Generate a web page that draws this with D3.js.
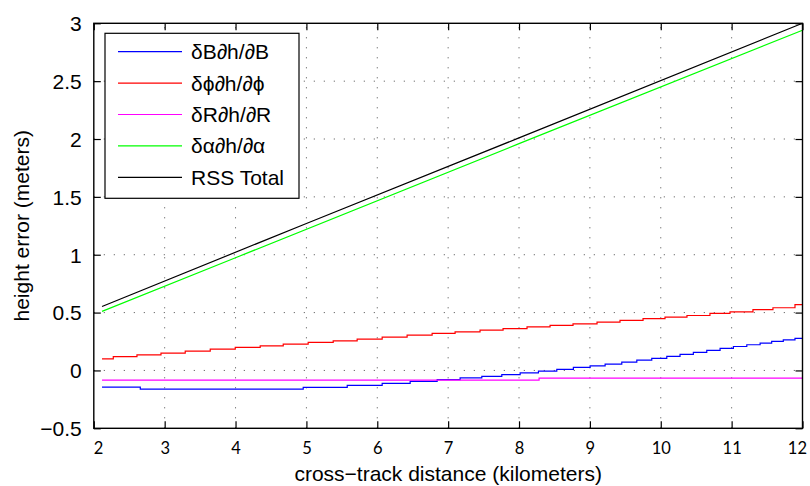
<!DOCTYPE html>
<html><head><meta charset="utf-8">
<script src="https://cdn.jsdelivr.net/npm/d3@7"></script>
<style>body{margin:0;background:#fff}</style>
</head><body><svg id="c" width="810" height="486"></svg>
<script>
// ---- data ----
const xTicks = [2,3,4,5,6,7,8,9,10,11,12];
const xTickLabels = ["2","3","4","5","6","7","8","9","10","11","12"];
const yTicks = [-0.5,0,0.5,1,1.5,2,2.5,3];
const yTickLabels = ["\u22120.5","0","0.5","1","1.5","2","2.5","3"];

const seriesNames = ["\u03b4B\u2202h/\u2202B","\u03b4\u03d5\u2202h/\u2202\u03d5","\u03b4R\u2202h/\u2202R","\u03b4\u03b1\u2202h/\u2202\u03b1","RSS Total"];
const seriesColors = ["#0000ff","#ff0000","#ff00ff","#00ff00","#000000"];

const blueX = [2.116,2.656,4.955,5.576,6.069,6.464,6.845,7.169,7.475,7.757,8.016,8.274,8.533,8.767,9.003,9.215,9.45,9.662,9.873,10.085,10.272,10.46,10.649,10.837,11.025,11.214,11.402,11.565,11.729,11.894,12];
const blueY = [-0.144,-0.161,-0.146,-0.129,-0.111,-0.094,-0.08,-0.065,-0.052,-0.036,-0.021,-0.006,0.009,0.026,0.04,0.054,0.072,0.089,0.104,0.121,0.138,0.156,0.173,0.19,0.207,0.222,0.236,0.251,0.265,0.277,0.28];

const redX = [2.116,2.275,2.609,2.948,3.29,3.643,3.996,4.348,4.673,5.025,5.378,5.716,6.069,6.421,6.774,7.098,7.45,7.775,8.113,8.438,8.762,9.101,9.425,9.75,10.06,10.37,10.694,10.977,11.301,11.583,11.894,12];
const redY = [0.10,0.12,0.135,0.15,0.167,0.184,0.20,0.213,0.227,0.242,0.256,0.271,0.288,0.305,0.32,0.334,0.348,0.362,0.376,0.389,0.403,0.418,0.432,0.447,0.461,0.475,0.493,0.507,0.525,0.542,0.568,0.57];

const magentaX = [2.116,8.283,12];
const magentaY = [-0.083,-0.067,-0.067];

const greenX = [2.116,4,8,12];
const greenY = [0.51,0.974,1.96,2.94];

const blackX = [2.116,5,8,12];
const blackY = [0.553,1.27,2.01,3.0];

// ---- layout ----
const svg = d3.select("#c");
const L = 93.8, R = 802.5, T = 23.3, B = 428.3;
const x = d3.scaleLinear().domain([2,12]).range([L,R]);
const y = d3.scaleLinear().domain([-0.5,3]).range([B,T]);

// grid
const g = svg.append("g");
g.selectAll("line.vg").data(xTicks.slice(1,-1)).join("line")
  .attr("x1",d=>x(d)).attr("x2",d=>x(d)).attr("y1",B).attr("y2",T)
  .attr("stroke","#000").attr("stroke-width",1).attr("stroke-dasharray","1,9").attr("opacity",0.7);
g.selectAll("line.hg").data(yTicks.slice(1,-1)).join("line")
  .attr("y1",d=>y(d)).attr("y2",d=>y(d)).attr("x1",L).attr("x2",R)
  .attr("stroke","#000").attr("stroke-width",1).attr("stroke-dasharray","1,9").attr("opacity",0.7);

// clip
svg.append("clipPath").attr("id","pc").append("rect")
  .attr("x",L).attr("y",T).attr("width",R-L).attr("height",B-T);

const series = [
  {xs:blueX, ys:blueY, c:seriesColors[0], step:true},
  {xs:redX, ys:redY, c:seriesColors[1], step:true},
  {xs:magentaX, ys:magentaY, c:seriesColors[2], step:true},
  {xs:greenX, ys:greenY, c:seriesColors[3], step:false},
  {xs:blackX, ys:blackY, c:seriesColors[4], step:false}
];
const lines = svg.append("g").attr("clip-path","url(#pc)");
series.forEach(s=>{
  const pts = s.xs.map((v,i)=>[v,s.ys[i]]);
  const gen = d3.line().x(d=>x(d[0])).y(d=>y(d[1])).curve(s.step?d3.curveStepAfter:d3.curveLinear);
  lines.append("path").attr("d",gen(pts)).attr("fill","none")
    .attr("stroke",s.c).attr("stroke-width",1.2);
});

// axes (box with inward ticks)
const axB = d3.axisBottom(x).tickValues(xTicks).tickSize(-7).tickFormat((d,i)=>xTickLabels[i]).tickPadding(14);
const axT = d3.axisTop(x).tickValues(xTicks).tickSize(-7).tickFormat("");
const axLft = d3.axisLeft(y).tickValues(yTicks).tickSize(-7).tickFormat((d,i)=>yTickLabels[i]).tickPadding(12);
const axRt = d3.axisRight(y).tickValues(yTicks).tickSize(-7).tickFormat("");

const gb = svg.append("g").attr("transform",`translate(0,${B})`).call(axB);
const gt = svg.append("g").attr("transform",`translate(0,${T})`).call(axT);
const gl = svg.append("g").attr("transform",`translate(${L},0)`).call(axLft);
const gr = svg.append("g").attr("transform",`translate(${R},0)`).call(axRt);
[gb,gt,gl,gr].forEach(a=>{
  a.select(".domain").remove();
  a.selectAll(".tick line").attr("stroke","#000").attr("stroke-width",1.2);
});
gb.selectAll(".tick text").attr("font-family","Lato, 'Open Sans', sans-serif").attr("font-size","16.5px").attr("fill","#000");
gb.selectAll(".tick text").filter((d,i)=>i===0).attr("text-anchor","start").attr("x",-0.5);
gb.selectAll(".tick text").filter((d,i)=>i===xTicks.length-1).attr("text-anchor","end").attr("x",4);
gl.selectAll(".tick text").attr("font-family","'Liberation Sans', Arial, sans-serif").attr("font-size","21px").attr("fill","#000").attr("dy","0.35em");

svg.append("rect").attr("x",L).attr("y",T).attr("width",R-L).attr("height",B-T)
  .attr("fill","none").attr("stroke","#000").attr("stroke-width",1.4);

// axis labels
svg.append("text").attr("x",(L+R)/2).attr("y",481).attr("text-anchor","middle")
  .attr("font-family","'Liberation Sans', Arial, sans-serif").attr("font-size","21px")
  .text("cross\u2212track distance (kilometers)");
svg.append("text").attr("transform",`translate(29,${(T+B)/2}) rotate(-90)`).attr("text-anchor","middle")
  .attr("font-family","'Liberation Sans', Arial, sans-serif").attr("font-size","21px")
  .text("height error (meters)");

// legend
const lg = svg.append("g");
lg.append("rect").attr("x",105).attr("y",33.3).attr("width",194).attr("height",165)
  .attr("fill","#fff").attr("stroke","#000").attr("stroke-width",1.2);
const rowY = d3.scaleLinear().domain([0,4]).range([51.7,177.3]);
seriesNames.forEach((n,i)=>{
  lg.append("line").attr("x1",118).attr("x2",182).attr("y1",rowY(i)).attr("y2",rowY(i))
    .attr("stroke",seriesColors[i]).attr("stroke-width",1.2);
  lg.append("text").attr("x",191).attr("y",rowY(i)).attr("dy","0.36em")
    .attr("font-family","'Liberation Sans', Arial, sans-serif").attr("font-size","21px").text(n);
});
</script></body></html>
